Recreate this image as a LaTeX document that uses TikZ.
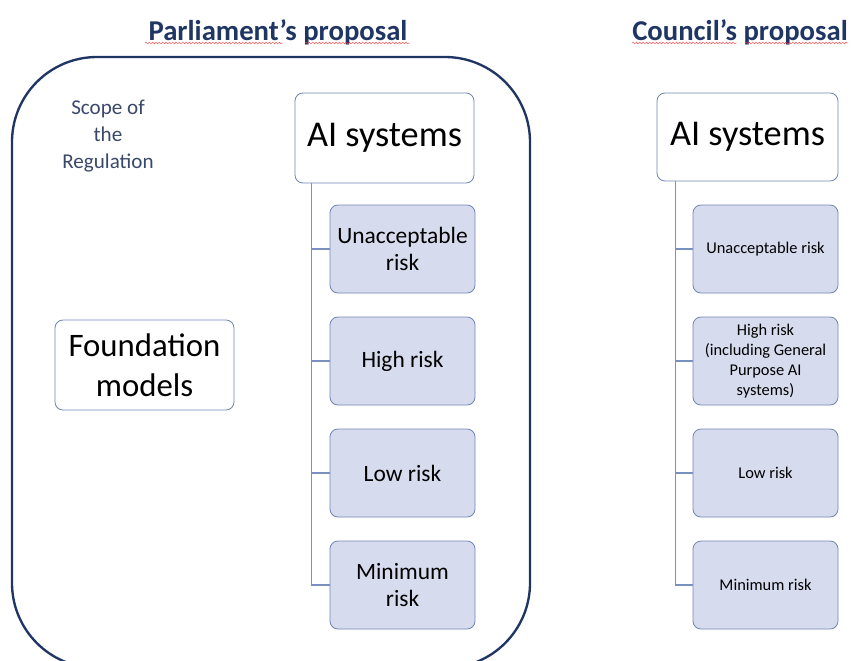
\documentclass[tikz,border=0pt]{standalone}
\usepackage{fontspec}
\setmainfont{Carlito}
\usetikzlibrary{decorations.pathmorphing}

\definecolor{navy}{HTML}{1F3564}
\definecolor{slate}{HTML}{3A486A}
\definecolor{boxline}{HTML}{7286B6}
\definecolor{boxfill}{HTML}{D7DBEE}
\definecolor{treeline}{HTML}{7A90BE}

\tikzset{
  title/.style={text=navy,font=\bfseries\fontsize{24.5}{28}\selectfont},
  spell/.style={draw=red!75,line width=0.35pt,decorate,
    decoration={snake,segment length=0.1cm,amplitude=0.025cm}},
  frame/.style={draw=navy,line width=2pt,rounded corners=2.55cm},
  rootbox/.style={draw=boxline,fill=white,rounded corners=0.24cm,line width=0.7pt,
    align=center,font=\fontsize{31}{36}\selectfont},
  riskbox/.style={draw=boxline,fill=boxfill,rounded corners=0.24cm,line width=0.7pt,
    align=center,minimum width=4.35cm,minimum height=2.64cm,inner sep=2pt},
  big/.style={font=\fontsize{20}{23}\selectfont},
  small/.style={font=\fontsize{14}{17}\selectfont},
  link/.style={draw=treeline,line width=0.9pt}
}

\begin{document}
\begin{tikzpicture}[x=0.03cm,y=-0.03cm]
  \useasboundingbox (0,0) rectangle (853,660);
  \clip (0,0) rectangle (853,660);

  % headings
  \node[title] (parl) at (278,32) {Parliament’s proposal};
  \node[title] (coun) at (740,32) {Council’s proposal};
  \draw[spell] (145,43) -- (283,43);
  \draw[spell] (305,43) -- (410,43);
  \draw[spell] (632,43) -- (737,43);
  \draw[spell] (745,43) -- (848,43);

  % scope of the regulation
  \draw[frame] (12,57) rectangle (530,668);
  \node[text=slate,align=center,font=\fontsize{18}{23}\selectfont] (scope) at (108,136)
    {Scope of\\the\\Regulation};
  \node[rootbox,font=\fontsize{28}{34}\selectfont,minimum width=5.37cm,minimum height=2.7cm]
    (found) at (144.5,365) {Foundation\\models};

  % parliament tree
  \node[rootbox,minimum width=5.37cm,minimum height=2.7cm] (aiL) at (384.5,138) {AI systems};
  \node[riskbox,big] (unaccL) at (402.5,249) {Unacceptable\\risk};
  \node[riskbox,big] (highL)  at (402.5,361) {High risk};
  \node[riskbox,big] (lowL)   at (402.5,473) {Low risk};
  \node[riskbox,big] (minL)   at (402.5,585) {Minimum\\risk};

  \draw[link] (aiL.south west) ++(17,0) |- (minL.west);
  \draw[link] (aiL.south west) ++(17,0) |- (unaccL.west);
  \draw[link] (aiL.south west) ++(17,0) |- (highL.west);
  \draw[link] (aiL.south west) ++(17,0) |- (lowL.west);

  % council tree
  \node[rootbox,minimum width=5.43cm,minimum height=2.64cm] (aiR) at (747.5,137) {AI systems};
  \node[riskbox,small] (unaccR) at (765.5,249) {Unacceptable risk};
  \node[riskbox,small] (highR)  at (765.5,361) {High risk\\(including General\\Purpose AI\\systems)};
  \node[riskbox,small] (lowR)   at (765.5,473) {Low risk};
  \node[riskbox,small] (minR)   at (765.5,585) {Minimum risk};

  \draw[link] (aiR.south west) ++(19,0) |- (minR.west);
  \draw[link] (aiR.south west) ++(19,0) |- (unaccR.west);
  \draw[link] (aiR.south west) ++(19,0) |- (highR.west);
  \draw[link] (aiR.south west) ++(19,0) |- (lowR.west);
\end{tikzpicture}
\end{document}
